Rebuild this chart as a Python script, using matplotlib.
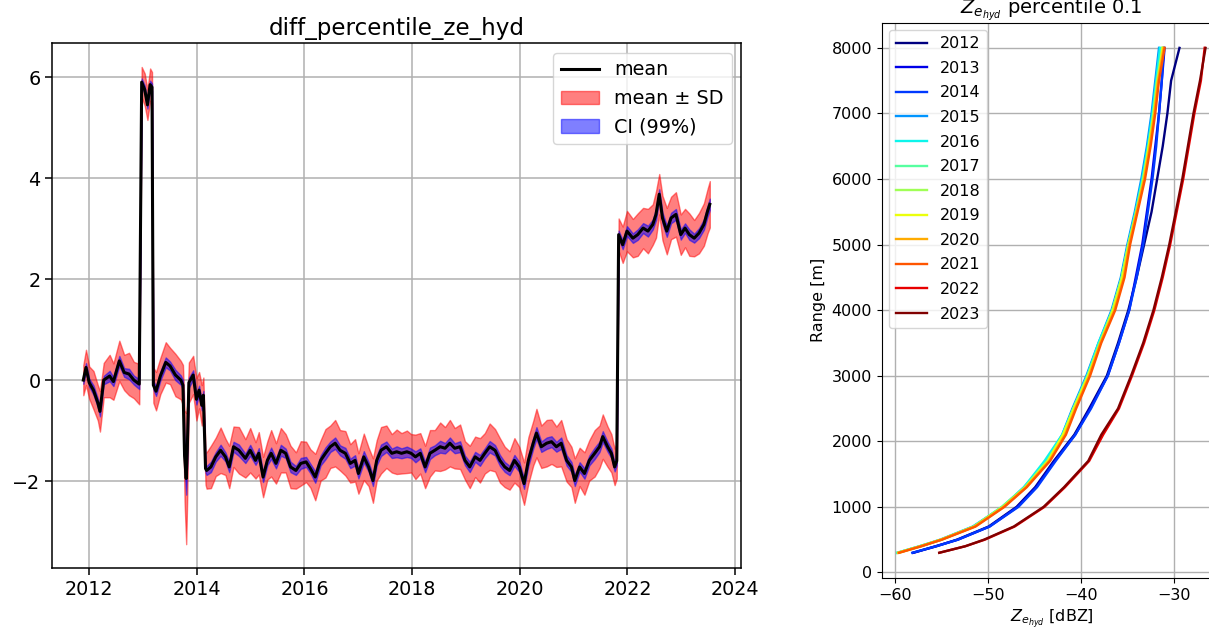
import numpy as np
import pandas as pd
import matplotlib
matplotlib.use('Agg')
import matplotlib.pyplot as plt
import matplotlib.dates as mdates

# ---- left panel: time series of the percentile difference ----
t_dec = [2011.89, 2011.94, 2012.00, 2012.08, 2012.16, 2012.20, 2012.27, 2012.38, 2012.45, 2012.56,
         2012.65, 2012.74, 2012.83, 2012.93, 2012.975, 2013.03, 2013.08, 2013.13, 2013.165, 2013.19,
         2013.24, 2013.32, 2013.42, 2013.50, 2013.60, 2013.70, 2013.74, 2013.77, 2013.80, 2013.82,
         2013.85, 2013.93, 2013.99, 2014.04, 2014.09, 2014.12, 2014.16, 2014.18, 2014.26, 2014.35,
         2014.44, 2014.53, 2014.60, 2014.68, 2014.78, 2014.90, 2014.99, 2015.09, 2015.15, 2015.23,
         2015.31, 2015.38, 2015.47, 2015.56, 2015.65, 2015.74, 2015.84, 2015.93, 2016.03, 2016.11,
         2016.20, 2016.30, 2016.39, 2016.48, 2016.57, 2016.66, 2016.76, 2016.85, 2016.94, 2017.00,
         2017.10, 2017.19, 2017.27, 2017.34, 2017.42, 2017.52, 2017.62, 2017.71, 2017.80, 2017.90,
         2017.98, 2018.06, 2018.15, 2018.24, 2018.33, 2018.42, 2018.52, 2018.61, 2018.70, 2018.79,
         2018.89, 2018.98, 2019.07, 2019.17, 2019.26, 2019.35, 2019.44, 2019.54, 2019.63, 2019.72,
         2019.81, 2019.90, 2019.99, 2020.08, 2020.16, 2020.25, 2020.31, 2020.40, 2020.50, 2020.59,
         2020.68, 2020.77, 2020.87, 2020.96, 2021.02, 2021.11, 2021.20, 2021.29, 2021.39, 2021.48,
         2021.54, 2021.63, 2021.70, 2021.76, 2021.80, 2021.835, 2021.91, 2021.99, 2022.10, 2022.19,
         2022.29, 2022.38, 2022.47, 2022.53, 2022.59, 2022.65, 2022.73, 2022.81, 2022.90, 2022.99,
         2023.07, 2023.15, 2023.24, 2023.33, 2023.42, 2023.49, 2023.53]
mean_vals = [0.00, 0.25, -0.05, -0.20, -0.45, -0.62, 0.00, 0.08, -0.03, 0.38,
             0.15, 0.12, 0.00, -0.08, 5.90, 5.75, 5.45, 5.85, 5.80, -0.10,
             -0.22, 0.08, 0.35, 0.28, 0.10, 0.00, -0.10, -1.50, -1.95, -1.40,
             -0.05, 0.10, -0.38, -0.20, -0.50, -0.30, -1.75, -1.79, -1.72, -1.52,
             -1.39, -1.52, -1.72, -1.32, -1.39, -1.55, -1.39, -1.59, -1.45, -1.92,
             -1.59, -1.45, -1.65, -1.39, -1.45, -1.72, -1.79, -1.65, -1.62, -1.75,
             -1.92, -1.59, -1.45, -1.32, -1.25, -1.39, -1.45, -1.65, -1.59, -1.85,
             -1.52, -1.72, -1.99, -1.59, -1.39, -1.32, -1.45, -1.42, -1.45, -1.42,
             -1.45, -1.52, -1.45, -1.72, -1.45, -1.39, -1.32, -1.35, -1.25, -1.35,
             -1.32, -1.59, -1.72, -1.52, -1.59, -1.45, -1.32, -1.39, -1.59, -1.72,
             -1.79, -1.59, -1.72, -2.05, -1.59, -1.25, -1.05, -1.32, -1.25, -1.22,
             -1.32, -1.25, -1.59, -1.72, -1.99, -1.72, -1.85, -1.59, -1.45, -1.32,
             -1.12, -1.32, -1.45, -1.72, -1.60, 2.88, 2.68, 2.95, 2.81, 2.88,
             3.01, 2.95, 3.08, 3.28, 3.68, 3.21, 2.95, 3.21, 3.28, 2.88,
             3.01, 2.88, 2.81, 2.91, 3.08, 3.35, 3.48]
sd_vals = [0.30, 0.35, 0.32, 0.38, 0.35, 0.40, 0.34, 0.42, 0.36, 0.40,
           0.35, 0.42, 0.36, 0.40, 0.30, 0.32, 0.30, 0.32, 0.30, 0.35,
           0.38, 0.36, 0.40, 0.36, 0.42, 0.38, 0.40, 0.90, 1.30, 0.90,
           0.40, 0.38, 0.42, 0.36, 0.40, 0.35, 0.32, 0.36, 0.42, 0.38,
           0.45, 0.36, 0.42, 0.40, 0.46, 0.38, 0.44, 0.36, 0.42, 0.40,
           0.38, 0.46, 0.40, 0.44, 0.38, 0.42, 0.36, 0.44, 0.40, 0.38,
           0.46, 0.40, 0.48, 0.42, 0.46, 0.40, 0.44, 0.38, 0.42, 0.40,
           0.46, 0.38, 0.44, 0.40, 0.46, 0.42, 0.38, 0.44, 0.40, 0.42,
           0.38, 0.44, 0.40, 0.42, 0.46, 0.40, 0.48, 0.42, 0.46, 0.40,
           0.44, 0.38, 0.42, 0.40, 0.44, 0.40, 0.46, 0.42, 0.44, 0.40,
           0.38, 0.44, 0.40, 0.42, 0.46, 0.44, 0.48, 0.42, 0.46, 0.44,
           0.40, 0.46, 0.42, 0.40, 0.44, 0.38, 0.42, 0.40, 0.46, 0.42,
           0.44, 0.40, 0.38, 0.36, 0.35, 0.32, 0.36, 0.40, 0.38, 0.42,
           0.40, 0.44, 0.40, 0.46, 0.40, 0.44, 0.46, 0.42, 0.44, 0.40,
           0.38, 0.42, 0.36, 0.40, 0.42, 0.44, 0.46]
n_samples = 110

# ---- right panel: profiles per year ----
range_m = [300, 400, 500, 700, 1000, 1300, 1700, 2100, 2500, 3000,
           3500, 4000, 4500, 5000, 5500, 6000, 6500, 7000, 7500, 8000]
years = ['2012', '2013', '2014', '2015', '2016', '2017', '2018', '2019', '2020', '2021', '2022', '2023']
ze_2012 = [-58.0, -55.5, -53.3, -49.9, -46.9, -44.9, -42.9, -40.7, -39.1, -37.2, -36.0, -34.9, -34.0, -33.2, -32.4, -31.8, -31.2, -30.7, -30.3, -29.4]
ze_2013 = [-58.0, -55.6, -53.2, -49.8, -46.8, -44.8, -42.8, -40.6, -39.0, -37.1, -35.9, -34.8, -34.1, -33.4, -32.9, -32.4, -32.0, -31.6, -31.3, -31.0]
ze_2014 = [-58.1, -55.5, -53.2, -49.8, -46.7, -44.7, -42.7, -40.6, -38.9, -37.1, -35.9, -34.8, -34.0, -33.3, -32.8, -32.3, -31.9, -31.6, -31.3, -31.1]
ze_2015 = [-59.7, -57.3, -55.1, -51.6, -48.4, -46.1, -43.7, -42.0, -40.9, -39.4, -38.1, -36.7, -35.7, -35.0, -34.2, -33.5, -32.9, -32.4, -32.0, -31.6]
ze_2016 = [-59.7, -57.3, -55.0, -51.5, -48.4, -46.1, -43.9, -42.0, -40.8, -39.3, -38.1, -36.6, -35.6, -34.9, -34.1, -33.4, -32.8, -32.3, -31.9, -31.5]
ze_2017 = [-59.7, -57.2, -55.0, -51.5, -48.5, -46.0, -43.6, -41.9, -40.8, -39.3, -38.0, -36.6, -35.6, -34.9, -34.1, -33.3, -32.7, -32.2, -31.8, -31.3]
ze_2018 = [-59.6, -57.2, -55.0, -51.5, -48.4, -46.0, -43.6, -41.9, -40.8, -39.2, -37.9, -36.6, -35.6, -34.9, -34.0, -33.3, -32.7, -32.2, -31.8, -31.2]
ze_2019 = [-59.6, -57.2, -55.0, -51.4, -48.3, -45.9, -43.5, -41.9, -40.7, -39.2, -37.9, -36.5, -35.5, -34.8, -34.0, -33.2, -32.7, -32.1, -31.7, -31.2]
ze_2020 = [-59.6, -57.2, -55.0, -51.4, -48.3, -45.9, -43.4, -41.7, -40.6, -39.1, -37.9, -36.4, -35.4, -34.8, -34.0, -33.2, -32.6, -32.1, -31.7, -31.1]
ze_2021 = [-59.5, -57.1, -54.9, -51.3, -48.2, -45.8, -43.3, -41.6, -40.5, -39.0, -37.8, -36.3, -35.3, -34.7, -33.9, -33.1, -32.5, -32.0, -31.6, -31.0]
ze_2022 = [-55.2, -52.4, -50.3, -47.1, -43.9, -41.7, -39.1, -37.6, -35.9, -34.5, -33.2, -32.1, -31.2, -30.4, -29.7, -29.0, -28.4, -27.8, -27.1, -26.7]
ze_2023 = [-55.2, -52.4, -50.4, -47.2, -44.0, -41.8, -39.2, -37.8, -36.0, -34.6, -33.3, -32.2, -31.3, -30.5, -29.8, -29.1, -28.5, -27.9, -27.2, -26.6]
profiles = [ze_2012, ze_2013, ze_2014, ze_2015, ze_2016, ze_2017, ze_2018, ze_2019, ze_2020, ze_2021, ze_2022, ze_2023]


def dec_to_date(y):
    y0 = int(y)
    return pd.Timestamp(year=y0, month=1, day=1) + pd.Timedelta(days=(y - y0) * 365.25)


dates = [dec_to_date(y) for y in t_dec]
mean = np.array(mean_vals)
sd = np.array(sd_vals)
ci = 2.576 * sd / np.sqrt(n_samples)

grid_lw = 1.1
spine_lw = 1.1

fig = plt.figure(figsize=(12.09, 6.34), dpi=100)

ax1 = fig.add_axes([0.043, 0.104, 0.570, 0.828])
h_sd = ax1.fill_between(dates, mean - sd, mean + sd, color='red', alpha=0.5, label='mean \u00b1 SD')
h_ci = ax1.fill_between(dates, mean - ci, mean + ci, color='blue', alpha=0.5, label='CI (99%)')
h_mean, = ax1.plot(dates, mean, color='black', linewidth=2.2, label='mean')
ax1.xaxis.set_major_locator(mdates.YearLocator(2))
ax1.xaxis.set_major_formatter(mdates.DateFormatter('%Y'))
ax1.set_yticks([-2, 0, 2, 4, 6])
ax1.grid(True, color='#b0b0b0', linewidth=grid_lw)
ax1.set_axisbelow(True)
ax1.tick_params(labelsize=13.8, width=spine_lw, length=4.8)
ax1.set_title('diff_percentile_ze_hyd', fontsize=16.6)
ax1.legend(handles=[h_mean, h_sd, h_ci], loc='upper right', fontsize=13.8)
for s in ax1.spines.values():
    s.set_linewidth(spine_lw)

ax2 = fig.add_axes([0.7295, 0.0883, 0.2804, 0.876])
colors = plt.cm.jet(np.linspace(0, 1, len(years)))
for yr, prof, c in zip(years, profiles, colors):
    ax2.plot(prof, range_m, color=c, linewidth=1.7, label=yr)
ax2.set_yticks(np.arange(0, 8001, 1000))
ax2.set_xticks([-60, -50, -40, -30])
ax2.grid(True, color='#b0b0b0', linewidth=1.0)
ax2.set_axisbelow(True)
ax2.tick_params(labelsize=11.5)
ax2.set_xlabel(r'$Z_{e_{hyd}}$ [dBZ]', fontsize=11.5)
ax2.set_ylabel('Range [m]', fontsize=11.5)
ax2.set_title(r'$Z_{e_{hyd}}$ percentile 0.1', fontsize=14)
ax2.legend(loc='upper left', fontsize=11.5, handlelength=2.0, labelspacing=0.6,
           borderaxespad=0.45)

plt.savefig('out.png', dpi=100)
plt.close('all')
